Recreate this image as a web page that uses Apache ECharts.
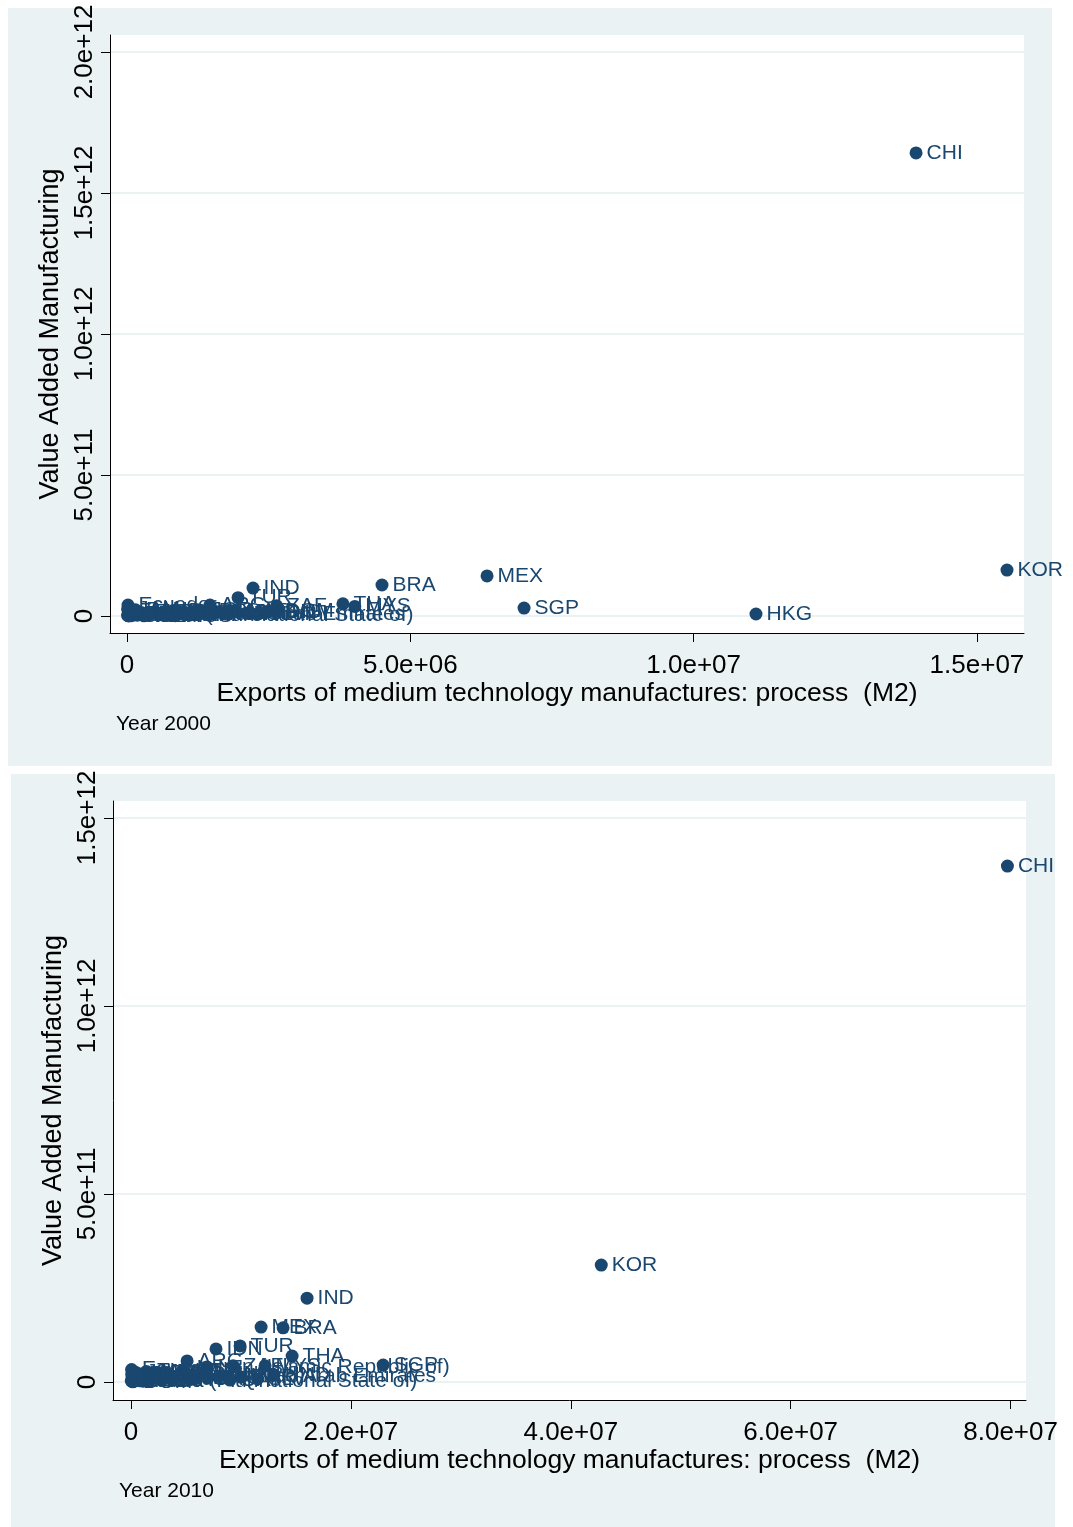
<!DOCTYPE html>
<html>
<head>
<meta charset="utf-8">
<title>Value added vs. medium-technology process exports</title>
<script src="https://cdn.jsdelivr.net/npm/echarts@6/dist/echarts.min.js"></script>
<style>
  html, body { margin: 0; padding: 0; background: #ffffff; }
  #chart { width: 1073px; height: 1527px; }
</style>
</head>
<body>
<div id="chart"></div>
<script>
// ---- Year 2000 ----
const countries2000 = [
  'CHI', 'KOR', 'MEX', 'SGP', 'HKG', 'BRA', 'IND', 'TUR', 'ARG', 'ZAF', 'THA', 'MYS', 'Ecuador',
  'Bolivia (Plurinational State of)',
  'PHL', 'CHL', 'COL', 'PER', 'PAK', 'EGY', 'MAR', 'TUN', 'KEN', 'NGA', 'VNM', 'LKA', 'BGD',
  'URY', 'CRI', 'GTM', 'JOR', 'OMN', 'SAU', 'KWT', 'QAT', 'BHR', 'SLV', 'HND', 'DOM', 'JAM',
  'TTO', 'PAN', 'PRY', 'ZWE', 'MUS', 'IDN', 'United Arab Emirates'
];
const exports2000 = [
  1.3925e7, 1.553e7, 6.354e6, 7.007e6, 1.110e7, 4.50e6, 2.224e6, 1.96e6, 1.465e6, 2.64e6, 3.81e6, 4.02e6, 1.8e4,
  1.0e4,
  2.0e4, 5.0e4, 8.0e4, 1.2e5, 1.8e5, 2.5e5, 3.0e5, 4.0e5, 5.0e5, 6.0e5, 7.0e5, 8.0e5, 9.0e5,
  1.0e6, 1.1e6, 1.2e6, 1.3e6, 1.45e6, 1.6e6, 1.75e6, 1.9e6, 2.1e6, 2.3e6, 2.45e6, 2.6e6, 1.0e4,
  3.0e4, 1.5e5, 3.5e5, 5.5e5, 8.5e5, 2.5e6, 1.2e6
];
const valueAdded2000 = [
  1.642e12, 1.63e11, 1.42e11, 2.8e10, 7e9, 1.10e11, 9.9e10, 6.5e10, 3.9e10, 3.6e10, 4.3e10, 3.4e10, 3.9e10,
  2e9,
  2e9, 5e9, 1e9, 8e9, 3e9, 1.2e10, 5e8, 6e9, 1.5e10, 4e9, 9e9, 2e9, 1.8e10,
  7e9, 3e9, 1.1e10, 2.0e10, 5e9, 1.4e10, 8e9, 1.6e10, 1.0e10, 6e9, 1.3e10, 1.7e10, 2.5e10,
  3e8, 2.2e10, 4e9, 9e9, 1e9, 1.5e10, 6e9
];

// ---- Year 2010 ----
const countries2010 = [
  'CHI', 'KOR', 'IND', 'MEX', 'BRA', 'TUR', 'IDN', 'THA', 'ARG', 'SGP', 'ZAF', 'MYS',
  'Iran (Islamic Republic of)', 'United Arab Emirates', 'Bolivia (Plurinational State of)', 'Ecuador',
  'PHL', 'CHL', 'COL', 'PER', 'PAK', 'EGY', 'MAR', 'TUN', 'KEN', 'NGA', 'VNM', 'LKA', 'BGD',
  'URY', 'CRI', 'GTM', 'JOR', 'OMN', 'SAU', 'KWT', 'QAT', 'BHR', 'SLV', 'HND', 'DOM', 'JAM',
  'TTO', 'PAN', 'PRY', 'ZWE', 'MUS'
];
const exports2010 = [
  7.971e7, 4.277e7, 1.601e7, 1.183e7, 1.383e7, 9.92e6, 7.73e6, 1.465e7, 5.10e6, 2.293e7, 9.28e6, 1.219e7,
  6.9e6, 8.64e6, 2.0e4, 5.0e4,
  1.0e5, 2.0e5, 3.5e5, 5.0e5, 7.0e5, 9.0e5, 1.1e6, 1.4e6, 1.7e6, 2.0e6, 2.4e6, 2.8e6, 3.2e6,
  3.7e6, 4.2e6, 4.8e6, 5.5e6, 6.2e6, 7.0e6, 8.0e6, 9.0e6, 1.0e7, 1.15e7, 1.3e7, 1.5e5, 4.0e5,
  8.0e5, 1.6e6, 2.6e6, 3.5e6, 6.0e4
];
const valueAdded2010 = [
  1.372e12, 3.11e11, 2.23e11, 1.46e11, 1.44e11, 9.6e10, 8.8e10, 6.9e10, 5.6e10, 4.5e10, 4.3e10, 4.3e10,
  4.0e10, 1.6e10, 3e9, 3.3e10,
  8e9, 1e9, 1.5e10, 5e9, 2.2e10, 1.0e10, 2e9, 2.8e10, 6e9, 1.2e10, 1.8e10, 4e9, 2.5e10,
  9e9, 1.4e10, 3.0e10, 7e9, 2.0e10, 1.1e10, 1.6e10, 5e9, 1.3e10, 8e9, 1.9e10, 5e8, 2.6e10,
  3e9, 1.7e10, 2.4e10, 1.0e10, 2.0e10
];

// ---- Axis ticks ----
const xTicks2000 = [0, 5e6, 1e7, 1.5e7];
const xTickLabels2000 = ['0', '5.0e+06', '1.0e+07', '1.5e+07'];
const yTicks2000 = [0, 5e11, 1e12, 1.5e12, 2e12];
const yTickLabels2000 = ['0', '5.0e+11', '1.0e+12', '1.5e+12', '2.0e+12'];
const xTicks2010 = [0, 2e7, 4e7, 6e7, 8e7];
const xTickLabels2010 = ['0', '2.0e+07', '4.0e+07', '6.0e+07', '8.0e+07'];
const yTicks2010 = [0, 5e11, 1e12, 1.5e12];
const yTickLabels2010 = ['0', '5.0e+11', '1.0e+12', '1.5e+12'];

const xTitle = 'Exports of medium technology manufactures: process  (M2)';
const yTitle = 'Value Added Manufacturing';

const NAVY = '#1a476f';
const PANEL = '#eaf2f3';
const FONT = '"Liberation Sans", Arial, Helvetica, sans-serif';

function tickText(ticks, labels) {
  return function (v) {
    let best = 0;
    for (let i = 1; i < ticks.length; i++) {
      if (Math.abs(ticks[i] - v) < Math.abs(ticks[best] - v)) best = i;
    }
    return labels[best];
  };
}

function points(names, xs, ys) {
  return names.map((n, i) => ({ name: n, value: [xs[i], ys[i]] }));
}

function xAxisFor(gridIndex, min, max, ticks, labels) {
  return {
    gridIndex, type: 'value', min, max,
    name: xTitle, nameLocation: 'middle', nameGap: 40,
    nameTextStyle: { fontSize: 26.5, color: '#000', fontFamily: FONT },
    axisLine: { show: true, onZero: false, lineStyle: { color: '#000', width: 1 } },
    axisTick: { show: true, inside: false, length: 9, customValues: ticks, lineStyle: { color: '#000', width: 1 } },
    axisLabel: { customValues: ticks, formatter: tickText(ticks, labels), fontSize: 26, color: '#000', fontFamily: FONT, margin: 20 },
    splitLine: { show: false }
  };
}

function yAxisFor(gridIndex, min, max, ticks, labels) {
  return {
    gridIndex, type: 'value', min, max,
    name: yTitle, nameLocation: 'middle', nameGap: 44, nameRotate: 90,
    nameTextStyle: { fontSize: 27, color: '#000', fontFamily: FONT },
    axisLine: { show: true, onZero: false, lineStyle: { color: '#000', width: 1 } },
    axisTick: { show: true, inside: false, length: 9, customValues: ticks, lineStyle: { color: '#000', width: 1 } },
    axisLabel: { customValues: ticks, formatter: tickText(ticks, labels), rotate: 90, fontSize: 26, color: '#000', fontFamily: FONT, margin: 12 },
    splitLine: { show: true, lineStyle: { color: PANEL, width: 2 } }
  };
}

function scatterFor(idx, data) {
  return {
    type: 'scatter', xAxisIndex: idx, yAxisIndex: idx,
    symbol: 'circle', symbolSize: 13,
    itemStyle: { color: NAVY, opacity: 1 },
    label: { show: true, position: 'right', distance: 4, formatter: '{b}', color: NAVY, fontSize: 21, fontFamily: FONT },
    labelLayout: { hideOverlap: false },
    emphasis: { disabled: true },
    data
  };
}

const chart = echarts.init(document.getElementById('chart'), null, { renderer: 'canvas' });

chart.setOption({
  animation: false,
  backgroundColor: '#ffffff',
  textStyle: { fontFamily: FONT },
  graphic: [
    { type: 'rect', z: -10, silent: true, shape: { x: 8, y: 8, width: 1044, height: 758 }, style: { fill: PANEL } },
    { type: 'rect', z: -10, silent: true, shape: { x: 11, y: 774, width: 1044, height: 753 }, style: { fill: PANEL } }
  ],
  title: [
    { text: 'Year 2000', left: 116, top: 714, padding: 0, textStyle: { fontSize: 21, fontWeight: 'normal', color: '#000', fontFamily: FONT } },
    { text: 'Year 2010', left: 119, top: 1481, padding: 0, textStyle: { fontSize: 21, fontWeight: 'normal', color: '#000', fontFamily: FONT } }
  ],
  grid: [
    { left: 110, top: 35, width: 914, height: 598, show: true, backgroundColor: '#ffffff', borderWidth: 0, containLabel: false, outerBoundsMode: 'none' },
    { left: 113, top: 801, width: 913, height: 599, show: true, backgroundColor: '#ffffff', borderWidth: 0, containLabel: false, outerBoundsMode: 'none' }
  ],
  xAxis: [
    xAxisFor(0, -3.0e5, 1.583e7, xTicks2000, xTickLabels2000),
    xAxisFor(1, -1.64e6, 8.14e7, xTicks2010, xTickLabels2010)
  ],
  yAxis: [
    yAxisFor(0, -6.03e10, 2.0603e12, yTicks2000, yTickLabels2000),
    yAxisFor(1, -4.79e10, 1.545e12, yTicks2010, yTickLabels2010)
  ],
  series: [
    scatterFor(0, points(countries2000, exports2000, valueAdded2000)),
    scatterFor(1, points(countries2010, exports2010, valueAdded2010))
  ]
});
</script>
</body>
</html>
